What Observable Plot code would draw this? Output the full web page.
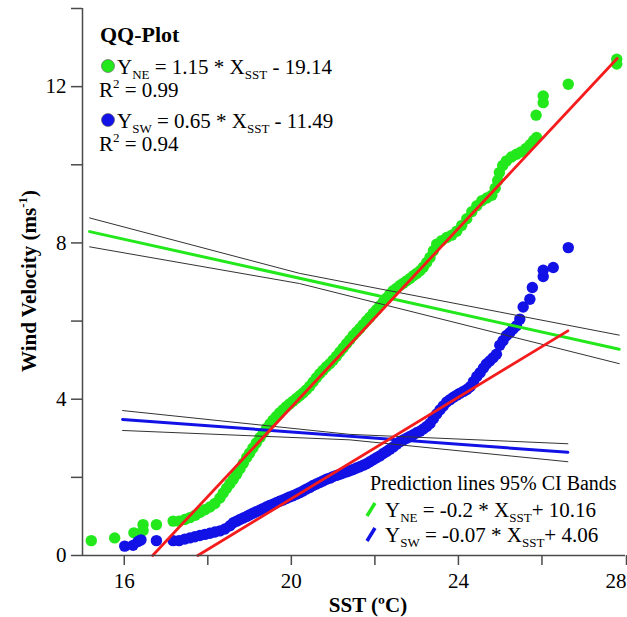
<!DOCTYPE html>
<html><head><meta charset="utf-8">
<script src="https://cdn.jsdelivr.net/npm/d3@7"></script>
<script src="https://cdn.jsdelivr.net/npm/@observablehq/plot@0.6"></script>
<style>
html,body{margin:0;padding:0;background:#fff;overflow:hidden;}
#chart svg{display:block;}
</style></head><body><div id="chart"></div>
<script>
// ---- data (SST in ºC, wind velocity in m/s) ----
const qqNE = [
 [15.21,0.38],[15.77,0.45],[16.23,0.58],[16.45,0.79],[16.45,0.64],[16.77,0.79],[17.17,0.88],[17.31,0.88],
 [17.45,0.92],[17.57,0.97],[17.70,1.03],[17.81,1.10],[17.93,1.17],[18.05,1.24],[18.17,1.33],[18.29,1.47],
 [18.37,1.60],[18.45,1.72],[18.53,1.84],[18.61,1.95],[18.69,2.08],[18.77,2.22],[18.85,2.36],[18.93,2.51],
 [19.00,2.62],[19.08,2.75],[19.16,2.88],[19.25,3.02],[19.33,3.14],[19.41,3.26],[19.49,3.37],[19.56,3.46],
 [19.64,3.56],[19.72,3.65],[19.80,3.73],[19.88,3.81],[19.96,3.88],[20.04,3.95],[20.12,4.02],[20.20,4.09],
 [20.28,4.16],[20.36,4.24],[20.44,4.33],[20.52,4.44],[20.60,4.55],[20.68,4.65],[20.76,4.74],[20.84,4.83],
 [20.92,4.91],[21.00,5.00],[21.08,5.10],[21.16,5.21],[21.24,5.31],[21.32,5.42],[21.40,5.52],[21.48,5.63],
 [21.56,5.72],[21.64,5.81],[21.72,5.91],[21.80,6.01],[21.88,6.10],[21.96,6.20],[22.04,6.29],[22.12,6.39],
 [22.20,6.49],[22.28,6.59],[22.36,6.69],[22.44,6.78],[22.52,6.84],[22.60,6.91],[22.68,6.97],[22.76,7.03],
 [22.84,7.09],[22.92,7.16],[23.00,7.22],[23.08,7.29],[23.16,7.38],[23.24,7.50],[23.32,7.63],[23.40,7.80],
 [23.48,7.97],[23.60,8.06],[23.72,8.14],[23.84,8.20],[23.96,8.30],[24.08,8.45],[24.20,8.62],[24.32,8.80],
 [24.44,8.95],[24.56,9.08],[24.68,9.15],[24.80,9.22],[24.88,9.40],[24.94,9.60],[24.98,9.80],[25.06,9.98],
 [25.15,10.10],[25.27,10.20],[25.39,10.27],[25.50,10.33],[25.62,10.42],[25.72,10.52],[25.80,10.62],[25.87,10.70],
 [25.86,11.27],[26.03,11.59],[26.03,11.76],[26.63,12.06],[27.79,12.70],[27.79,12.58]
];
const qqSW = [
 [16.01,0.24],[16.21,0.26],[16.33,0.36],[16.40,0.40],[16.77,0.38],[17.17,0.38],[17.31,0.38],[17.45,0.42],
 [17.57,0.45],[17.69,0.48],[17.81,0.51],[17.93,0.54],[18.05,0.57],[18.17,0.60],[18.29,0.63],[18.41,0.68],
 [18.53,0.76],[18.61,0.84],[18.69,0.88],[18.77,0.92],[18.85,0.96],[18.93,1.00],[19.00,1.04],[19.08,1.08],
 [19.16,1.12],[19.24,1.16],[19.32,1.20],[19.40,1.24],[19.48,1.28],[19.56,1.31],[19.64,1.35],[19.72,1.39],
 [19.80,1.42],[19.88,1.46],[19.96,1.50],[20.04,1.53],[20.12,1.57],[20.20,1.61],[20.28,1.65],[20.36,1.70],
 [20.44,1.74],[20.52,1.79],[20.60,1.83],[20.68,1.87],[20.76,1.91],[20.84,1.95],[20.92,1.98],[21.00,2.02],
 [21.08,2.05],[21.16,2.08],[21.24,2.11],[21.32,2.14],[21.40,2.17],[21.48,2.20],[21.56,2.24],[21.64,2.27],
 [21.72,2.31],[21.80,2.35],[21.88,2.40],[21.96,2.45],[22.04,2.50],[22.12,2.55],[22.20,2.61],[22.28,2.66],
 [22.36,2.72],[22.44,2.78],[22.52,2.85],[22.60,2.91],[22.68,2.96],[22.76,3.00],[22.84,3.05],[22.92,3.09],
 [23.00,3.14],[23.08,3.18],[23.16,3.24],[23.24,3.30],[23.32,3.38],[23.40,3.50],[23.48,3.62],[23.56,3.73],
 [23.64,3.83],[23.72,3.93],[23.80,3.99],[23.88,4.05],[23.96,4.10],[24.03,4.15],[24.12,4.20],[24.20,4.25],
 [24.28,4.32],[24.36,4.45],[24.44,4.58],[24.52,4.68],[24.60,4.80],[24.67,4.90],[24.75,4.98],[24.83,5.06],
 [24.91,5.15],[24.99,5.38],[25.07,5.50],[25.15,5.63],[25.23,5.70],[25.31,5.80],[25.39,5.88],[25.47,6.05],
 [25.55,6.36],[25.71,6.56],[25.77,6.86],[26.03,7.14],[26.03,7.30],[26.27,7.37],[26.63,7.88]
];
// QQ fit lines (end points)
const fitNE = [[16.68,0],[27.80,12.72]];
const fitSW = [[17.76,0],[26.62,5.75]];
// prediction lines and 95% CI bands
const predNE      = [[15.17,8.29],[27.85,5.28]];
const predNEUpper = [[15.17,8.64],[20.20,7.22],[27.85,5.64]];
const predNELower = [[15.17,7.90],[20.20,6.96],[27.85,4.91]];
const predSW      = [[15.96,3.48],[26.62,2.64]];
const predSWUpper = [[15.96,3.71],[21.40,3.10],[26.62,2.86]];
const predSWLower = [[15.96,3.20],[21.40,2.96],[26.62,2.40]];
// ticks
const xTicks = [16,20,24];
const xLastTick = [28];
const xMinor = [18,22,26];
const yTicks = [0,4,8,12];
const yMinor = [2,6,10,14];
// texts
const xTitle = "SST (ºC)";
const yTitle = [["Wind Velocity (ms"],["-1","sup"],[")"]];
const qqTitle = "QQ-Plot";
const qqEqNE = [["Y"],["NE","sub"],[" = 1.15 * X"],["SST","sub"],[" - 19.14"]];
const qqR2NE = [["R"],["2","sup"],[" = 0.99"]];
const qqEqSW = [["Y"],["SW","sub"],[" = 0.65 * X"],["SST","sub"],[" - 11.49"]];
const qqR2SW = [["R"],["2","sup"],[" = 0.94"]];
const predTitle = "Prediction lines 95% CI Bands";
const predEqNE = [["Y"],["NE","sub"],[" = -0.2 * X"],["SST","sub"],["+ 10.16"]];
const predEqSW = [["Y"],["SW","sub"],[" = -0.07 * X"],["SST","sub"],["+ 4.06"]];

// ---- styles ----
const GREEN = "#22e81c", BLUE = "#1212e6", RED = "#f41c1c", AXIS = "#4a4a4a", BAND = "#333";
const FONT = "'Liberation Serif','Times New Roman',serif";

const P = d => d[0], Q = d => d[1];
const chart = Plot.plot({
  width: 627, height: 617,
  marginLeft: 82, marginRight: 2, marginTop: 8, marginBottom: 62,
  style: {fontFamily: FONT, fontSize: "21px", color: "#000", background: "#fff"},
  x: {domain: [15, 28]},
  y: {domain: [0, 14]},
  marks: [
    Plot.dot(qqNE, {x: P, y: Q, r: 5.7, fill: GREEN}),
    Plot.dot(qqSW, {x: P, y: Q, r: 5.7, fill: BLUE}),
    Plot.line(predNEUpper, {x: P, y: Q, stroke: BAND, strokeWidth: 1}),
    Plot.line(predNELower, {x: P, y: Q, stroke: BAND, strokeWidth: 1}),
    Plot.line(predNE, {x: P, y: Q, stroke: GREEN, strokeWidth: 3}),
    Plot.line(predSWUpper, {x: P, y: Q, stroke: BAND, strokeWidth: 1}),
    Plot.line(predSWLower, {x: P, y: Q, stroke: BAND, strokeWidth: 1}),
    Plot.line(predSW, {x: P, y: Q, stroke: BLUE, strokeWidth: 3}),
    Plot.line(fitNE, {x: P, y: Q, stroke: RED, strokeWidth: 2.8}),
    Plot.line(fitSW, {x: P, y: Q, stroke: RED, strokeWidth: 2.8}),
    Plot.ruleX([15], {stroke: AXIS, strokeWidth: 1.5}),
    Plot.ruleY([0], {stroke: AXIS, strokeWidth: 1.5}),
    Plot.axisX({ticks: xTicks, tickSize: 10, tickPadding: 8, stroke: AXIS, strokeWidth: 1.5, fill: "#000", label: null, fontSize: 21}),
    Plot.axisX({ticks: xLastTick, tickSize: 10, tickPadding: 8, stroke: AXIS, strokeWidth: 1.5, fill: "#000", label: null, fontSize: 21, textAnchor: "end", dx: 1}),
    Plot.axisX({ticks: xMinor, tickSize: 10, text: null, stroke: AXIS, strokeWidth: 1.5, label: null}),
    Plot.axisY({ticks: yTicks, tickSize: 11, tickPadding: 5, stroke: AXIS, strokeWidth: 1.5, fill: "#000", label: null, fontSize: 21}),
    Plot.axisY({ticks: yMinor, tickSize: 11, text: null, stroke: AXIS, strokeWidth: 1.5, label: null})
  ]
});
document.getElementById("chart").appendChild(chart);

// ---- overlay texts (rich text with sub/superscripts) ----
const svg = d3.select(chart);
function rich(x, y, parts, size, opts = {}) {
  const t = svg.append("text")
    .attr("x", x).attr("y", y)
    .attr("font-size", size)
    .attr("font-weight", opts.bold ? "bold" : "normal")
    .attr("fill", "#000")
    .attr("text-anchor", opts.anchor || "start")
    .style("font-family", FONT)
    .style("white-space", "pre");
  if (opts.transform) t.attr("transform", opts.transform);
  let shift = 0;
  const small = Math.round(size * 0.6);
  for (const [s, kind] of parts) {
    const ts = t.append("tspan").text(s);
    let target = 0;
    if (kind === "sub") { ts.attr("font-size", small); target = size * 0.24; }
    else if (kind === "sup") { ts.attr("font-size", small); target = -size * 0.42; }
    if (target !== shift) { ts.attr("dy", target - shift); shift = target; }
  }
  return t;
}

// axis titles
rich(368, 612, [[xTitle]], 21, {bold: true, anchor: "middle"});
rich(0, 0, yTitle, 21, {bold: true, anchor: "middle", transform: "translate(36,281) rotate(-90)"});

// QQ legend (top-left)
rich(100, 42, [[qqTitle]], 22, {bold: true});
svg.append("circle").attr("cx", 108).attr("cy", 66).attr("r", 6.5).attr("fill", GREEN).attr("stroke", "#555").attr("stroke-width", 0.6);
rich(117, 74, qqEqNE, 21);
rich(99, 97, qqR2NE, 21);
svg.append("circle").attr("cx", 108).attr("cy", 120).attr("r", 6.5).attr("fill", BLUE).attr("stroke", "#555").attr("stroke-width", 0.6);
rich(117, 128, qqEqSW, 21);
rich(99, 151, qqR2SW, 21);

// prediction legend (bottom-right)
rich(370, 490, [[predTitle]], 20);
svg.append("line").attr("x1", 367).attr("y1", 516).attr("x2", 375).attr("y2", 503).attr("stroke", GREEN).attr("stroke-width", 3.5);
rich(385, 517, predEqNE, 21);
svg.append("line").attr("x1", 367).attr("y1", 541).attr("x2", 375).attr("y2", 528).attr("stroke", BLUE).attr("stroke-width", 3.5);
rich(385, 542, predEqSW, 21);
</script></body></html>
